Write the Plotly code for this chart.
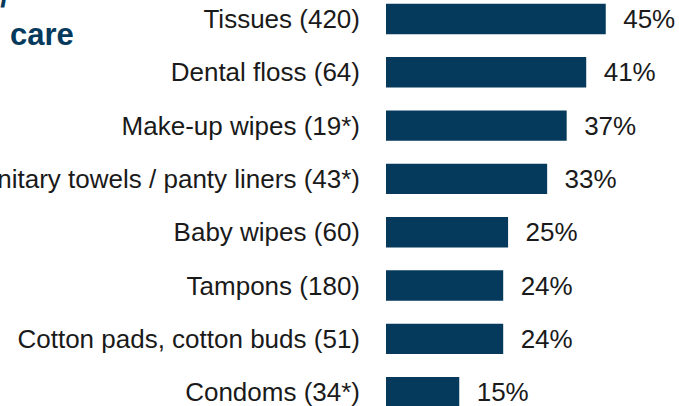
import plotly.graph_objects as go

# Share of respondents per product (sample size in brackets)
categories = [
    "Tissues (420)",
    "Dental floss (64)",
    "Make-up wipes (19*)",
    "Sanitary towels / panty liners (43*)",
    "Baby wipes (60)",
    "Tampons (180)",
    "Cotton pads, cotton buds (51)",
    "Condoms (34*)",
]
shares = [45, 41, 37, 33, 25, 24, 24, 15]

NAVY = "#063a5c"
FONT = "Arial"

fig = go.Figure(
    go.Bar(
        x=shares,
        y=categories,
        orientation="h",
        marker=dict(color=NAVY, line=dict(width=0)),
        text=[f"  {v}%" for v in shares],
        textposition="outside",
        textfont=dict(family=FONT, size=26, color="#1a1a1a"),
        cliponaxis=False,
        hoverinfo="skip",
    )
)

fig.update_layout(
    width=679,
    height=406,
    margin=dict(l=386, r=0, t=0, b=0, autoexpand=False),
    paper_bgcolor="white",
    plot_bgcolor="white",
    bargap=0.43,
    showlegend=False,
    font=dict(family=FONT, size=26, color="#1a1a1a"),
    xaxis=dict(
        range=[0, 60],
        visible=False,
        fixedrange=True,
        automargin=False,
    ),
    yaxis=dict(
        type="category",
        categoryorder="array",
        categoryarray=categories,
        range=[7.26, -0.356],
        showgrid=False,
        zeroline=False,
        showline=False,
        ticks="",
        ticklabelstandoff=25,
        tickfont=dict(family=FONT, size=26, color="#1a1a1a"),
        automargin=False,
        fixedrange=True,
    ),
    annotations=[
        dict(
            text="<b>Personal hygiene /</b>",
            xref="paper", yref="paper",
            x=(11 - 386) / 293, y=1 - 16 / 406,
            xanchor="right", yanchor="bottom",
            showarrow=False,
            font=dict(family=FONT, size=31, color=NAVY),
        ),
        dict(
            text="<b>care</b>",
            xref="paper", yref="paper",
            x=(8 - 386) / 293, y=1 - 34 / 406,
            xanchor="left", yanchor="middle",
            showarrow=False,
            font=dict(family=FONT, size=31, color=NAVY),
        ),
    ],
)

fig.write_html("out.html")
